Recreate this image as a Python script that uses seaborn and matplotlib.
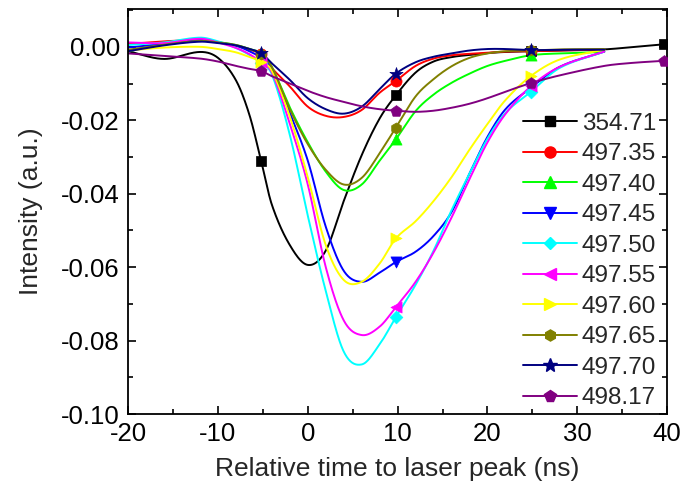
import numpy as np
import pandas as pd
import seaborn as sns
import matplotlib
matplotlib.use("Agg")
import matplotlib.pyplot as plt
from matplotlib.lines import Line2D
from matplotlib.ticker import MultipleLocator, FuncFormatter

# ---------------- data ----------------
t_main = [-20, -16, -12, -10, -8, -6.5, -5.2, -4, -2, 0, 2, 4, 6, 8, 9.8,
          12, 14, 16, 18, 20, 22, 24.8, 28, 33]
t_long = t_main + [36, 39.7]
marker_t = [-5.2, 9.8, 24.8, 39.7]

labels = ["354.71", "497.35", "497.40", "497.45", "497.50",
          "497.55", "497.60", "497.65", "497.70", "498.17"]

s_35471 = [-0.0012, -0.0033, -0.0014, -0.0030, -0.0091, -0.0185, -0.0310, -0.0430,
           -0.0540, -0.0594, -0.0555, -0.0420, -0.0295, -0.0195, -0.0132, -0.0070,
           -0.0040, -0.0028, -0.0022, -0.0017, -0.0014, -0.0012, -0.0010, -0.0007,
           -0.0001, 0.0007]
s_49735 = [0.0008, 0.0015, 0.0018, 0.0012, 0.0003, -0.0008, -0.0020, -0.0058,
           -0.0108, -0.0163, -0.0188, -0.0191, -0.0172, -0.0125, -0.0093, -0.0052,
           -0.0032, -0.0023, -0.0019, -0.0016, -0.0013, -0.0012, -0.0010, -0.0008]
s_49740 = [-0.0012, 0.0006, 0.0018, 0.0013, 0.0005, -0.0006, -0.0018, -0.0055,
           -0.0165, -0.0260, -0.0340, -0.0390, -0.0375, -0.0310, -0.0252, -0.0175,
           -0.0130, -0.0098, -0.0073, -0.0052, -0.0038, -0.0023, -0.0018, -0.0014]
s_49745 = [-0.0002, 0.0008, 0.0018, 0.0012, 0.0003, -0.0012, -0.0030, -0.0060,
           -0.0180, -0.0310, -0.0490, -0.0610, -0.0640, -0.0615, -0.0586, -0.0558,
           -0.0515, -0.0450, -0.0345, -0.0245, -0.0170, -0.0112, -0.0055, -0.0013]
s_49750 = [0.0005, 0.0012, 0.0025, 0.0015, -0.0003, -0.0022, -0.0045, -0.0075,
           -0.0240, -0.0460, -0.0665, -0.0830, -0.0865, -0.0810, -0.0736, -0.0648,
           -0.0555, -0.0445, -0.0345, -0.0250, -0.0180, -0.0123, -0.0058, -0.0013]
s_49755 = [0.0012, 0.0010, 0.0022, 0.0012, -0.0003, -0.0020, -0.0042, -0.0070,
           -0.0210, -0.0375, -0.0600, -0.0745, -0.0785, -0.0762, -0.0709, -0.0640,
           -0.0560, -0.0465, -0.0360, -0.0260, -0.0183, -0.0108, -0.0055, -0.0013]
s_49760 = [-0.0010, -0.0002, 0.0000, -0.0006, -0.0015, -0.0028, -0.0040, -0.0065,
           -0.0190, -0.0355, -0.0540, -0.0635, -0.0640, -0.0590, -0.0522, -0.0475,
           -0.0420, -0.0355, -0.0280, -0.0210, -0.0145, -0.0080, -0.0035, -0.0008]
s_49765 = [-0.0008, 0.0006, 0.0016, 0.0012, 0.0005, -0.0006, -0.0020, -0.0055,
           -0.0170, -0.0265, -0.0335, -0.0375, -0.0357, -0.0290, -0.0220, -0.0135,
           -0.0088, -0.0053, -0.0030, -0.0018, -0.0012, -0.0010, -0.0007, -0.0006]
s_49770 = [-0.0012, 0.0004, 0.0014, 0.0010, 0.0004, -0.0006, -0.0017, -0.0045,
           -0.0090, -0.0140, -0.0170, -0.0182, -0.0163, -0.0115, -0.0073, -0.0042,
           -0.0027, -0.0018, -0.0010, -0.0006, -0.0006, -0.0009, -0.0008, -0.0008]
s_49817 = [-0.0018, -0.0025, -0.0032, -0.0040, -0.0052, -0.0060, -0.0066, -0.0080,
           -0.0100, -0.0120, -0.0137, -0.0150, -0.0162, -0.0170, -0.0174, -0.0177,
           -0.0174, -0.0166, -0.0155, -0.0140, -0.0122, -0.0099, -0.0078, -0.0052,
           -0.0044, -0.0038]

series = [s_35471, s_49735, s_49740, s_49745, s_49750,
          s_49755, s_49760, s_49765, s_49770, s_49817]
colors = ["#000000", "#FF0000", "#00FF00", "#0000FF", "#00FFFF",
          "#FF00FF", "#FFFF00", "#808000", "#000080", "#800080"]
markers = ["s", "o", "^", "v", "D", "<", ">", "h", "*", "p"]
msizes = [7, 8, 8, 8, 6.5, 8, 8, 8, 10, 8.5]


def smooth_curve(x, y, xn):
    """Cubic Hermite (Catmull-Rom style) curve through the data points."""
    x = np.asarray(x, float); y = np.asarray(y, float)
    n = len(x); h = np.diff(x)
    m = np.zeros(n)
    m[1:-1] = (y[2:] - y[:-2]) / (x[2:] - x[:-2])
    m[0] = (y[1] - y[0]) / h[0]
    m[-1] = (y[-1] - y[-2]) / h[-1]
    idx = np.clip(np.searchsorted(x, xn) - 1, 0, n - 2)
    hk = h[idx]; s = (xn - x[idx]) / hk
    h00 = 2 * s**3 - 3 * s**2 + 1; h10 = s**3 - 2 * s**2 + s
    h01 = -2 * s**3 + 3 * s**2; h11 = s**3 - s**2
    return h00 * y[idx] + h10 * hk * m[idx] + h01 * y[idx + 1] + h11 * hk * m[idx + 1]


# ---------------- figure ----------------
sns.set_theme(style="ticks")
plt.rcParams["font.family"] = ["Liberation Sans", "DejaVu Sans"]
plt.rcParams["axes.unicode_minus"] = False

fig = plt.figure(figsize=(6.85, 5.0), dpi=100)
ax = fig.add_axes([0.187, 0.172, 0.787, 0.810])

handles = []
for lab, ys, col, mk, ms in zip(labels, series, colors, markers, msizes):
    tx = t_long if len(ys) == len(t_long) else t_main
    xd = np.linspace(tx[0], tx[-1], 800)
    yd = smooth_curve(tx, ys, xd)
    sns.lineplot(x=xd, y=yd, ax=ax, color=col, lw=1.4, sort=False,
                 estimator=None, legend=False)
    df = pd.DataFrame({"t": tx, "v": ys})
    dm = df[df["t"].isin(marker_t)]
    sns.scatterplot(data=dm, x="t", y="v", ax=ax, color=col, marker=mk,
                    s=ms**2, edgecolor=col, linewidth=0.5, legend=False, zorder=5)
    handles.append(Line2D([], [], color=col, lw=1.4, marker=mk, markersize=ms,
                          markeredgecolor=col, label=lab))

ax.set_xlim(-20, 40)
ax.set_ylim(-0.10, 0.0103)
ax.xaxis.set_major_locator(MultipleLocator(10))
ax.xaxis.set_minor_locator(MultipleLocator(5))
ax.yaxis.set_major_locator(MultipleLocator(0.02))
ax.yaxis.set_minor_locator(MultipleLocator(0.01))
ax.yaxis.set_major_formatter(
    FuncFormatter(lambda v, p: ("%.2f" % v).replace("-0.00", "0.00")))
ax.tick_params(which="both", direction="in", top=True, right=True,
               width=1.2, labelsize=18.5, colors="black", pad=6)
ax.tick_params(which="major", length=6)
ax.tick_params(which="minor", length=3.5)
for sp in ax.spines.values():
    sp.set_linewidth(1.3)
    sp.set_color("black")

ax.set_xlabel("Relative time to laser peak (ns)", fontsize=19, labelpad=8)
ax.set_ylabel("Intensity (a.u.)", fontsize=19, labelpad=13)

ax.legend(handles=handles, loc="upper left", bbox_to_anchor=(0.733, 0.744),
          frameon=False, fontsize=17.5, handlelength=2.2, handletextpad=0.2,
          labelspacing=0.35, borderpad=0, borderaxespad=0)

fig.savefig("out.png", dpi=100)
